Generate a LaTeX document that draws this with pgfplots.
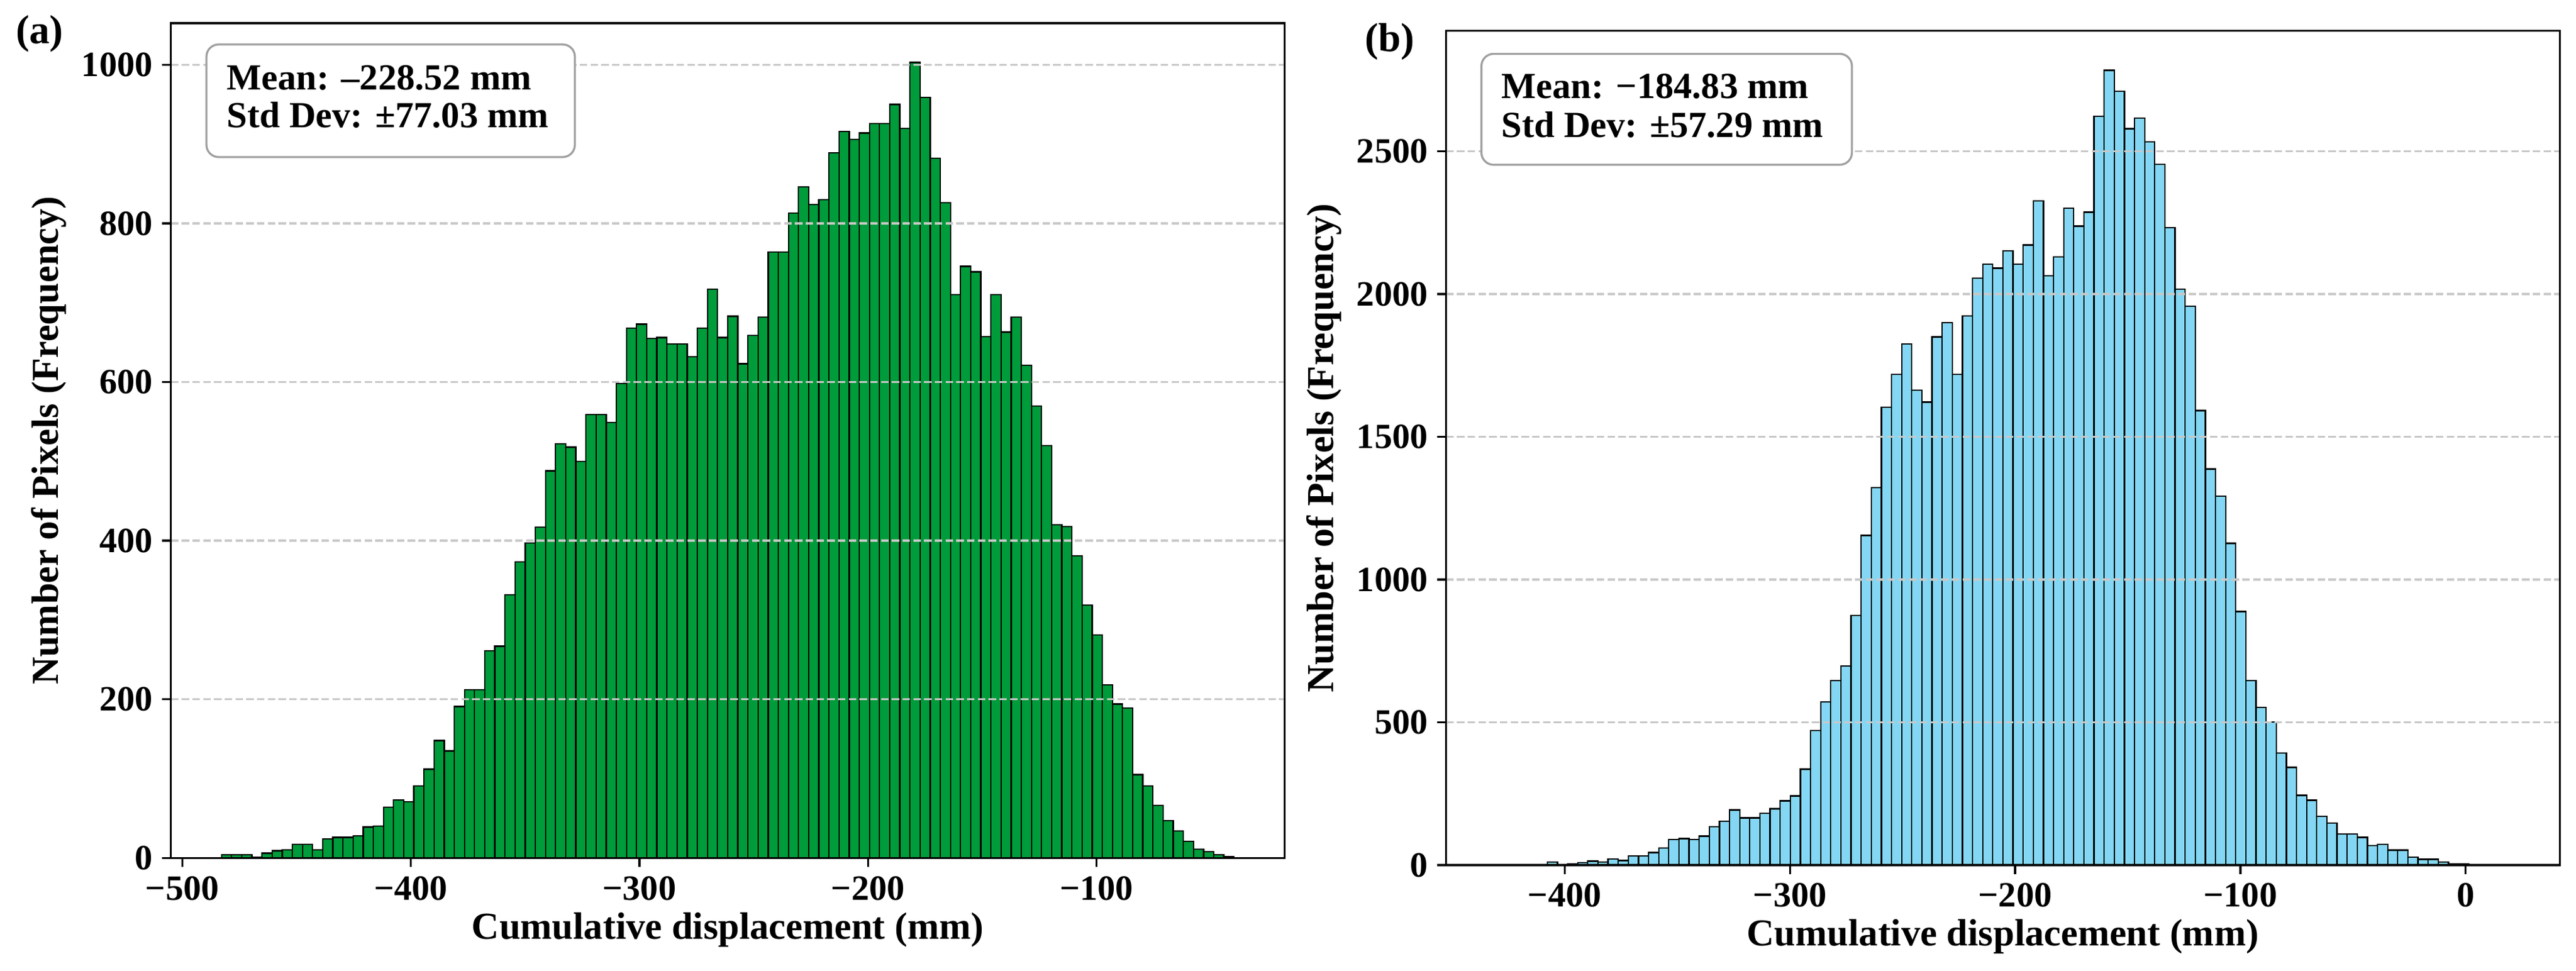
\documentclass[border=0pt]{standalone}
\usepackage{fontspec}
\setmainfont{Liberation Serif}
\usepackage{pgfplots}
\pgfplotsset{compat=1.18}
\definecolor{histgreen}{RGB}{0,155,58}
\definecolor{histblue}{RGB}{132,215,244}
\definecolor{gridgray}{RGB}{200,200,200}
\definecolor{boxgray}{RGB}{160,160,160}
\pgfplotsset{
  myhist/.style={
    scale only axis, width=438.9pt, height=329.1pt,
    anchor=south west,
    axis on top,
    ymin=0,
    tick align=outside, tick pos=left,
    major tick length=3.5pt,
    minor tick num=0,
    every tick/.style={black, line width=0.8pt},
    axis line style={line width=0.8pt},
    ymajorgrids, xmajorgrids=false,
    major grid style={gridgray, line width=0.8pt, dash pattern=on 2.96pt off 1.28pt},
    ticklabel style={font=\bfseries\fontsize{14}{16}\selectfont, inner sep=0pt},
    xticklabel shift=3.5pt, yticklabel shift=3.5pt,
    scaled y ticks=false,
    label style={font=\bfseries\fontsize{15}{18}\selectfont},
    xlabel style={at={(axis description cs:0.5,-0.097)}, anchor=base},
    ylabel style={at={(axis description cs:-0.101,0.5)}, anchor=base},
    xlabel={Cumulative displacement (mm)},
    ylabel={Number of Pixels (Frequency)},
  }
}
\begin{document}
\begin{tikzpicture}
\useasboundingbox (0,0) rectangle (1015.2pt,382.8pt);
% ---------------- panel (a)
\begin{axis}[myhist, at={(67.34pt,44.57pt)},
  xmin=-505.0, xmax=-17.7, ymax=1052.5,
  xtick={-500,-400,-300,-200,-100}, xticklabels={−500,−400,−300,−200,−100},
  ytick={0,200,400,600,800,1000}, yticklabels={0,200,400,600,800,1000}]
\addplot[ybar interval, fill=histgreen, draw=black, line width=0.55pt] coordinates {
(-482.85,4) (-478.42,4) (-473.99,4) (-469.56,1) (-465.13,6) (-460.70,9) (-456.27,10) (-451.84,17) (-447.41,17) (-442.98,10)
(-438.55,24) (-434.12,26) (-429.69,26) (-425.26,28) (-420.83,39) (-416.40,40) (-411.97,64) (-407.54,73) (-403.11,71) (-398.68,91)
(-394.25,112) (-389.82,148) (-385.39,135) (-380.96,191) (-376.53,212) (-372.10,212) (-367.67,261) (-363.24,267) (-358.81,332) (-354.38,373)
(-349.95,397) (-345.52,417) (-341.09,488) (-336.66,522) (-332.23,518) (-327.80,500) (-323.37,559) (-318.94,559) (-314.51,549) (-310.08,598)
(-305.65,668) (-301.22,673) (-296.79,655) (-292.36,656) (-287.93,648) (-283.50,648) (-279.07,632) (-274.64,668) (-270.21,717) (-265.78,656)
(-261.35,683) (-256.92,623) (-252.49,659) (-248.06,682) (-243.63,764) (-239.20,764) (-234.77,813) (-230.34,846) (-225.91,824) (-221.48,830)
(-217.05,889) (-212.62,916) (-208.19,906) (-203.76,914) (-199.33,926) (-194.90,926) (-190.47,950) (-186.04,920) (-181.61,1003) (-177.18,959)
(-172.75,882) (-168.32,826) (-163.89,710) (-159.46,746) (-155.03,739) (-150.60,657) (-146.17,710) (-141.74,663) (-137.31,682) (-132.88,621)
(-128.45,570) (-124.02,520) (-119.59,420) (-115.16,418) (-110.73,381) (-106.30,319) (-101.87,281) (-97.44,218) (-93.01,194) (-88.58,189)
(-84.15,105) (-79.72,91) (-75.29,66) (-70.86,47) (-66.43,34) (-62.00,21) (-57.57,11) (-53.14,8) (-48.71,4) (-44.28,2)
(-39.85,0)};
\end{axis}
% ---------------- panel (b)
\begin{axis}[myhist, at={(569.88pt,41.76pt)}, height=328.85pt,
  xmin=-452.675, xmax=41.775, ymax=2922,
  xtick={-400,-300,-200,-100,0}, xticklabels={−400,−300,−200,−100,0},
  ytick={0,500,1000,1500,2000,2500}, yticklabels={0,500,1000,1500,2000,2500}]
\addplot[ybar interval, fill=histblue, draw=black, line width=0.55pt] coordinates {
(-430.200,1) (-425.705,1) (-421.210,1) (-416.715,1) (-412.220,2) (-407.725,10) (-403.230,2) (-398.735,3) (-394.240,8) (-389.745,14)
(-385.250,10) (-380.755,22) (-376.260,16) (-371.765,32) (-367.270,32) (-362.775,44) (-358.280,60) (-353.785,89) (-349.290,93) (-344.795,89)
(-340.300,101) (-335.805,135) (-331.310,153) (-326.815,193) (-322.320,165) (-317.825,165) (-313.330,181) (-308.835,197) (-304.340,225) (-299.845,242)
(-295.350,336) (-290.855,471) (-286.360,572) (-281.865,646) (-277.370,698) (-272.875,874) (-268.380,1155) (-263.885,1322) (-259.390,1604) (-254.895,1719)
(-250.400,1826) (-245.905,1663) (-241.410,1622) (-236.915,1850) (-232.420,1900) (-227.925,1719) (-223.430,1924) (-218.935,2055) (-214.440,2105) (-209.945,2091)
(-205.450,2152) (-200.955,2105) (-196.460,2172) (-191.965,2327) (-187.470,2065) (-182.975,2130) (-178.480,2301) (-173.985,2238) (-169.490,2287) (-164.995,2623)
(-160.500,2784) (-156.005,2711) (-151.510,2579) (-147.015,2617) (-142.520,2534) (-138.025,2454) (-133.530,2232) (-129.035,2017) (-124.540,1957) (-120.045,1592)
(-115.550,1387) (-111.055,1292) (-106.560,1127) (-102.065,888) (-97.570,646) (-93.075,552) (-88.580,501) (-84.085,393) (-79.590,342) (-75.095,244)
(-70.600,227) (-66.105,171) (-61.610,147) (-57.115,109) (-52.620,109) (-48.125,97) (-43.630,68) (-39.135,72) (-34.640,52) (-30.145,52)
(-25.650,28) (-21.155,20) (-16.660,20) (-12.165,10) (-7.670,4) (-3.175,4) (1.320,2) (5.815,2) (10.310,1) (14.805,1)
(19.300,0)};
\end{axis}
% ---------------- stats boxes
\draw[boxgray, line width=0.8pt, fill=white, rounded corners=4.8pt] (81.36pt,320.88pt) rectangle (226.56pt,365.28pt);
\node[anchor=base west, inner sep=0pt, font=\bfseries\fontsize{14.5}{17}\selectfont] at (89.28pt,347.45pt) {Mean: –228.52 mm};
\node[anchor=base west, inner sep=0pt, font=\bfseries\fontsize{14.5}{17}\selectfont] at (89.28pt,332.45pt) {Std Dev: ±77.03 mm};
\draw[boxgray, line width=0.8pt, fill=white, rounded corners=4.8pt] (583.82pt,317.83pt) rectangle (729.84pt,361.56pt);
\node[anchor=base west, inner sep=0pt, font=\bfseries\fontsize{14.5}{17}\selectfont] at (591.6pt,344.0pt) {Mean: −184.83 mm};
\node[anchor=base west, inner sep=0pt, font=\bfseries\fontsize{14.5}{17}\selectfont] at (591.6pt,328.6pt) {Std Dev: ±57.29 mm};
% ---------------- panel letters
\node[font=\bfseries\fontsize{16}{19}\selectfont] at (15.6pt,369.6pt) {(a)};
\node[font=\bfseries\fontsize{16}{19}\selectfont] at (547.7pt,366.3pt) {(b)};
\end{tikzpicture}
\end{document}
